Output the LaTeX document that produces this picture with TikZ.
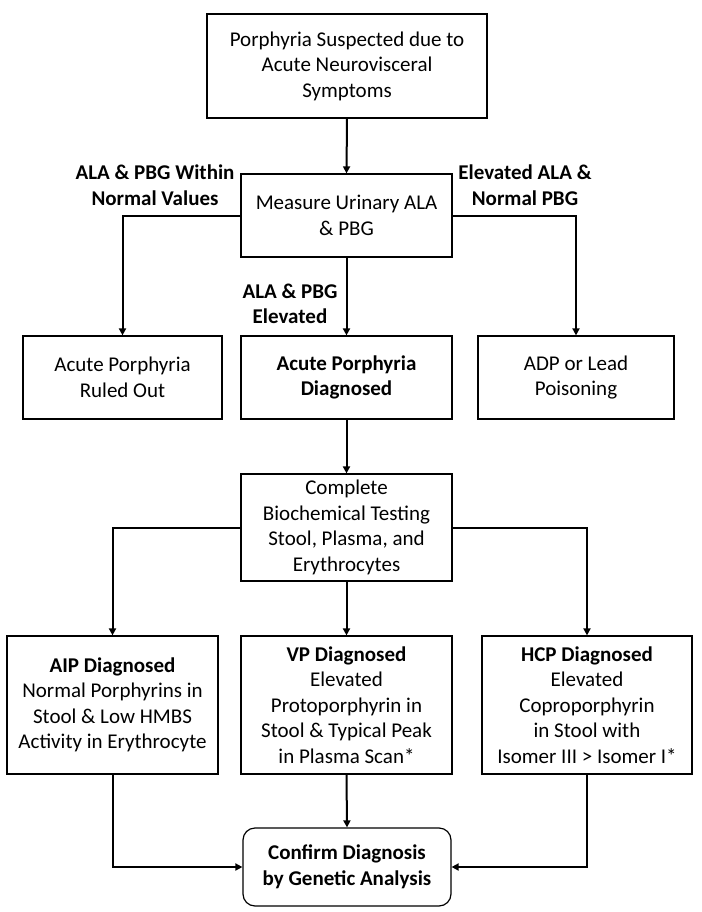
\documentclass[tikz,border=0pt]{standalone}
\usepackage{fontspec}
\setmainfont{Carlito}
\usetikzlibrary{arrows.meta}
\begin{document}
\begin{tikzpicture}[x=1pt,y=-1pt,
  every node/.style={font=\fontsize{21}{25.5}\selectfont, align=center, inner sep=0pt},
  box/.style={draw=black, line width=1.2pt, rectangle},
  rbox/.style={box, rounded corners=12pt},
  conn/.style={line width=2pt, -{Triangle[length=7pt,width=7pt]}},
  lab/.style={font=\fontsize{21}{25.5}\selectfont\bfseries}]
\useasboundingbox (0,0) rectangle (701,912);
\node[box, minimum width=280pt, minimum height=104pt] (b1) at (347,66) {Porphyria Suspected  due to\\Acute Neurovisceral\\Symptoms};
\node[box, minimum width=211pt, minimum height=83pt] (b2) at (346.5,215.5) {Measure Urinary ALA\\\& PBG};
\node[box, minimum width=199pt, minimum height=83pt] (ro) at (122.5,377.5) {Acute Porphyria\\Ruled Out};
\node[box, minimum width=211pt, minimum height=83pt] (ap) at (346.5,377.5) {\bfseries Acute Porphyria\\\bfseries Diagnosed};
\node[box, minimum width=196pt, minimum height=83pt] (adp) at (576,377.5) {ADP or Lead\\Poisoning};
\node[box, minimum width=211pt, minimum height=107pt] (cb) at (346.5,527.5) {Complete\\Biochemical Testing\\Stool, Plasma, and\\Erythrocytes};
\node[box, minimum width=211pt, minimum height=138pt] (aip) at (112.5,705) {\bfseries AIP Diagnosed\\Normal Porphyrins in\\Stool \& Low HMBS\\Activity in Erythrocyte};
\node[box, minimum width=211pt, minimum height=138pt] (vp) at (346.5,705) {\bfseries VP Diagnosed\\Elevated\\Protoporphyrin in\\Stool \& Typical Peak\\in Plasma Scan*};
\node[box, minimum width=210pt, minimum height=138pt] (hcp) at (587,705) {\bfseries HCP Diagnosed\\Elevated\\Coproporphyrin\\in Stool with\\Isomer III > Isomer I*};
\node[rbox, minimum width=208pt, minimum height=78pt] (cf) at (347,867) {\bfseries Confirm Diagnosis\\\bfseries by Genetic Analysis};
\node[lab] (l1) at (155,185) {ALA \& PBG Within\\Normal Values};
\node[lab] (l2) at (525,185) {Elevated ALA \&\\Normal PBG};
\node[lab] (l3) at (290,304) {ALA \& PBG\\Elevated};
\draw[conn] (b1.south) -- (b2.north);
\draw[conn] (b2.west) -| (ro.north);
\draw[conn] (b2.east) -| (adp.north);
\draw[conn] (b2.south) -- (ap.north);
\draw[conn] (ap.south) -- (cb.north);
\draw[conn] (cb.west) -| (aip.north);
\draw[conn] (cb.east) -| (hcp.north);
\draw[conn] (cb.south) -- (vp.north);
\draw[conn] (aip.south) |- (cf.west);
\draw[conn] (hcp.south) |- (cf.east);
\draw[conn] (vp.south) -- (cf.north);
\end{tikzpicture}
\end{document}
